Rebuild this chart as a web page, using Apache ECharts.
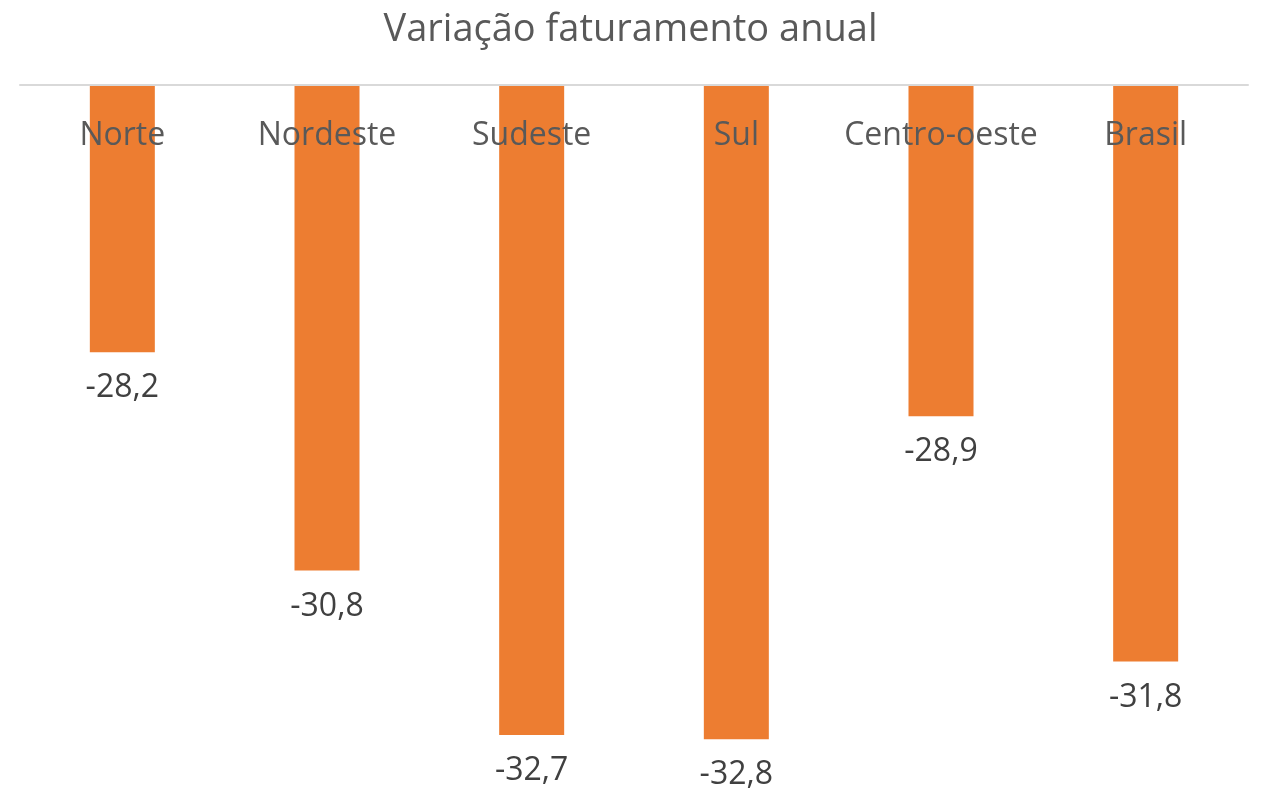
<!DOCTYPE html>
<html>
<head>
<meta charset="utf-8">
<script src="https://cdn.jsdelivr.net/npm/echarts@6/dist/echarts.min.js"></script>
<style>
  html, body { margin: 0; padding: 0; background: #fff; }
  #main { width: 1261px; height: 792px; }
</style>
</head>
<body>
<div id="main"></div>
<script>
// 数据 (valores estimados pelo comprimento das barras; rótulo com 1 casa)
var regioes = ['Norte', 'Nordeste', 'Sudeste', 'Sul', 'Centro-oeste', 'Brasil'];
var variacao = [-28.17, -30.76, -32.71, -32.76, -28.93, -31.84];
var eixoMin = -33;
var eixoMax = -25;

var myChart = echarts.init(document.getElementById('main'));
var option = {
  animation: false,
  textStyle: { fontFamily: 'Open Sans' },
  title: {
    text: 'Variação faturamento anual',
    left: 'center',
    top: 6,
    textStyle: {
      fontFamily: 'Open Sans',
      fontSize: 38,
      fontWeight: 'normal',
      color: '#595959'
    }
  },
  grid: {
    left: 20,
    right: 13,
    top: 85,
    bottom: 32.6
  },
  xAxis: {
    type: 'category',
    position: 'top',
    data: regioes,
    axisLine: { lineStyle: { color: '#d9d9d9', width: 2 } },
    axisTick: { show: false },
    axisLabel: {
      inside: true,
      interval: 0,
      margin: 35,
      fontSize: 32,
      color: '#595959',
      fontFamily: 'Open Sans'
    },
    z: 10
  },
  yAxis: {
    type: 'value',
    min: eixoMin,
    max: eixoMax,
    show: false,
    splitLine: { show: false }
  },
  series: [{
    type: 'bar',
    data: variacao,
    barWidth: 65,
    clip: true,
    itemStyle: { color: '#ed7d31' },
    label: {
      show: true,
      position: 'bottom',
      distance: 20,
      fontSize: 32,
      color: '#404040',
      fontFamily: 'Open Sans',
      formatter: function (p) {
        return p.value.toFixed(1).replace('.', ',');
      }
    }
  }]
};
myChart.setOption(option);
</script>
</body>
</html>
